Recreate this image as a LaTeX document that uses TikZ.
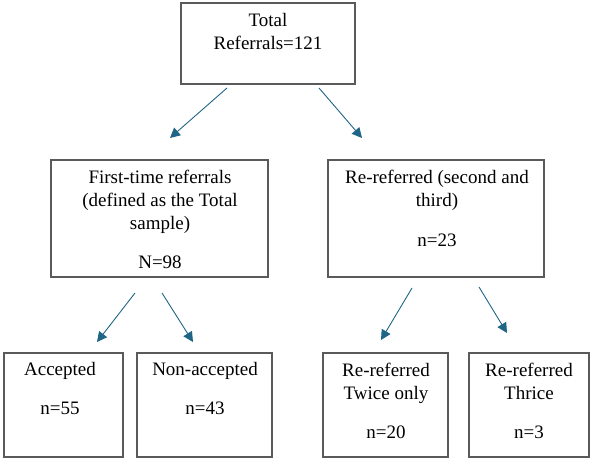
\documentclass[tikz,border=0pt]{standalone}
\usepackage{fontspec}
\setmainfont{Liberation Serif}
\usetikzlibrary{arrows.meta}
\definecolor{arrowblue}{RGB}{31,101,134}
\definecolor{boxgray}{RGB}{90,90,90}
\begin{document}
\begin{tikzpicture}[x=1pt,y=-1pt,
  box/.style={draw=boxgray,line width=1.3pt,rectangle,inner sep=0pt},
  txt/.style={align=center,inner sep=0pt,anchor=base,font=\fontsize{19}{23}\selectfont},
  arr/.style={draw=arrowblue,line width=0.9pt,-{Triangle[length=10pt,width=10pt]}}]
\useasboundingbox (0,0) rectangle (593,462);
% boxes
\node[box,minimum width=174pt,minimum height=81pt] (top) at (268,43.5) {};
\node[box,minimum width=217pt,minimum height=117pt] (first) at (159.5,218.5) {};
\node[box,minimum width=216pt,minimum height=117pt] (re) at (436,218.5) {};
\node[box,minimum width=119pt,minimum height=104pt] (acc) at (63.5,405) {};
\node[box,minimum width=135pt,minimum height=104pt] (non) at (204.5,405) {};
\node[box,minimum width=125pt,minimum height=104pt] (twice) at (385.5,405) {};
\node[box,minimum width=120pt,minimum height=104pt] (thrice) at (529,405) {};
% texts (anchor base = baseline of the last line)
\node[txt] (ttop) at (268,50) {Total\\Referrals=121};
\node[txt] (tfirst) at (160,268) {First-time referrals\\(defined as the Total\\sample)\\[16pt]N=98};
\node[txt] (tre) at (437,246) {Re-referred (second and\\third)\\[17pt]n=23};
\node[txt] (tacc) at (60,414) {Accepted\\[16pt]n=55};
\node[txt] (tnon) at (205,414) {Non-accepted\\[16pt]n=43};
\node[txt] (ttwice) at (386,438) {Re-referred\\Twice only\\[16pt]n=20};
\node[txt] (tthrice) at (529,438) {Re-referred\\Thrice\\[16pt]n=3};
% connector end points
\coordinate (a1s) at (227,88);  \coordinate (a1e) at (170,138);
\coordinate (a2s) at (319,88);  \coordinate (a2e) at (362,138);
\coordinate (a3s) at (135,293); \coordinate (a3e) at (97,342);
\coordinate (a4s) at (162,293); \coordinate (a4e) at (193,342);
\coordinate (a5s) at (412,288); \coordinate (a5e) at (381,340);
\coordinate (a6s) at (479,287); \coordinate (a6e) at (507,333);
\draw[arr] (a1s) -- (a1e);
\draw[arr] (a2s) -- (a2e);
\draw[arr] (a3s) -- (a3e);
\draw[arr] (a4s) -- (a4e);
\draw[arr] (a5s) -- (a5e);
\draw[arr] (a6s) -- (a6e);
\end{tikzpicture}
\end{document}
